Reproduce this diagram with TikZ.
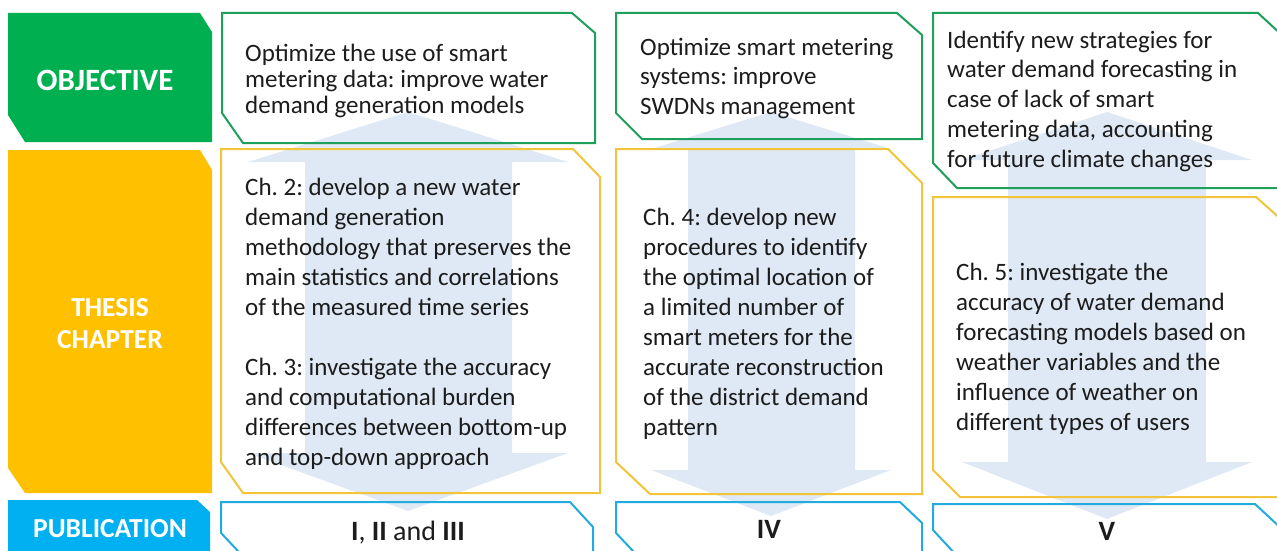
\documentclass[tikz,border=0pt]{standalone}
\usepackage{fontspec}
\setmainfont{Carlito}
\frenchspacing
\definecolor{objgreen}{RGB}{0,176,80}
\definecolor{thyellow}{RGB}{255,192,0}
\definecolor{pubblue}{RGB}{0,176,240}
\definecolor{arrowblue}{RGB}{222,233,245}
\definecolor{objline}{RGB}{30,160,90}
\definecolor{thline}{RGB}{243,196,58}
\definecolor{publine}{RGB}{35,170,222}
\definecolor{txt}{RGB}{28,28,28}
\newcommand\firststrut{\rule{0pt}{22pt}}
\newcommand\tightlines{\lineskiplimit-100pt\relax\frenchspacing}
\begin{document}
\begin{tikzpicture}[x=1pt,y=-1pt,
  lab/.style={font=\fontsize{27.5}{32}\selectfont\bfseries, text=white, inner sep=0pt, align=center},
  body/.style={font=\fontsize{25}{30}\selectfont\tightlines, text=txt, inner sep=0pt, align=left, anchor=north west},
  pubtxt/.style={font=\fontsize{28}{32}\selectfont, text=txt, inner sep=0pt, anchor=base},
  bgarrow/.style={fill=arrowblue, draw=none},
  objbox/.style={draw=objline, line width=2pt, line join=miter},
  thbox/.style={draw=thline, line width=2pt, line join=miter},
  pubbox/.style={draw=publine, line width=2pt, line join=miter},
]
\useasboundingbox (0,0) rectangle (1277,551);
\fill[white] (0,0) rectangle (1277,551);

% background double arrows
\fill[bgarrow] (408,112) -- (568,162) -- (512,162) -- (512,453) -- (568,453) -- (408,511)
  -- (248,453) -- (305,453) -- (305,162) -- (248,162) -- cycle;
\fill[bgarrow] (771,112) -- (891,149) -- (855,149) -- (855,470) -- (891,470) -- (771,516)
  -- (651,470) -- (688,470) -- (688,149) -- (651,149) -- cycle;
\fill[bgarrow] (1107,112) -- (1252,160) -- (1206,160) -- (1206,462) -- (1252,462) -- (1107,519)
  -- (962,462) -- (1008,462) -- (1008,160) -- (962,160) -- cycle;

% left label boxes
\fill[objgreen] (8,13) -- (200,13) -- (212,32) -- (212,142) -- (25,142) -- (8,115) -- cycle;
\fill[thyellow] (8,150) -- (200,150) -- (212,170) -- (212,493) -- (25,493) -- (8,468) -- cycle;
\fill[pubblue] (8,500) -- (197,500) -- (210,512) -- (210,570) -- (8,570) -- cycle;

% content boxes
\draw[objbox] (222,13) -- (572,13) -- (595,33) -- (595,143) -- (243,143) -- (222,113) -- cycle;
\draw[thbox] (221,149) -- (573,149) -- (600,177) -- (600,493) -- (243,493) -- (221,462) -- cycle;
\draw[pubbox] (256,570) -- (221,533) -- (221,502) -- (570,502) -- (593,527) -- (593,570);

\draw[objbox] (616,13) -- (897,13) -- (922,35) -- (922,139) -- (642,139) -- (616,113) -- cycle;
\draw[thbox] (616,149) -- (888,149) -- (922,183) -- (922,494) -- (650,494) -- (616,462) -- cycle;
\draw[pubbox] (651,570) -- (616,533) -- (616,502) -- (900,502) -- (922,523) -- (922,570);

\draw[objbox] (933,13) -- (1258,13) -- (1284,37) -- (1284,188) -- (957,188) -- (933,163) -- cycle;
\draw[thbox] (933,197) -- (1256,197) -- (1284,222) -- (1284,497) -- (960,497) -- (933,470) -- cycle;
\draw[pubbox] (970,570) -- (933,530) -- (933,504) -- (1255,504) -- (1284,531) -- (1284,570);

% labels
\node[lab, font=\fontsize{31}{34}\selectfont\bfseries, anchor=base] (lobj) at (105,90) {OBJECTIVE};
\node[lab, anchor=north] (lthesis) at (110,296) {\rule{0pt}{20pt}THESIS\\CHAPTER};
\node[lab, anchor=base] (lpub) at (110,537) {PUBLICATION};

% objective texts
\node[body, font=\fontsize{25}{26}\selectfont\tightlines] (o1) at (245,39)
  {\firststrut Optimize the use of smart\\metering data: improve water\\demand generation models};
\node[body, font=\fontsize{25}{29.5}\selectfont\tightlines] (o2) at (640,33)
  {\firststrut Optimize smart metering\\systems: improve\\SWDNs management};
\node[body, font=\fontsize{25}{29.7}\selectfont\tightlines] (o3) at (947,26)
  {\firststrut Identify new strategies for\\water demand forecasting in\\case of lack of smart\\metering data, accounting\\for future climate changes};

% thesis chapter texts
\node[body] (t1) at (245,173)
  {\firststrut Ch. 2: develop a new water\\demand generation\\methodology that preserves the\\main statistics and correlations\\of the measured time series\\[30pt]Ch. 3: investigate the accuracy\\and computational burden\\differences between bottom-up\\and top-down approach};
\node[body] (t2) at (643,203)
  {\firststrut Ch. 4: develop new\\procedures to identify\\the optimal location of\\a limited number of\\smart meters for the\\accurate reconstruction\\of the district demand\\pattern};
\node[body] (t3) at (956,258)
  {\firststrut Ch. 5: investigate the\\accuracy of water demand\\forecasting models based on\\weather variables and the\\influence of weather on\\different types of users};

% publication texts
\node[pubtxt] (p1) at (408,540) {\textbf{I}, \textbf{II} and \textbf{III}};
\node[pubtxt] (p2) at (769,538) {\textbf{IV}};
\node[pubtxt] (p3) at (1107,540) {\textbf{V}};
\end{tikzpicture}
\end{document}
